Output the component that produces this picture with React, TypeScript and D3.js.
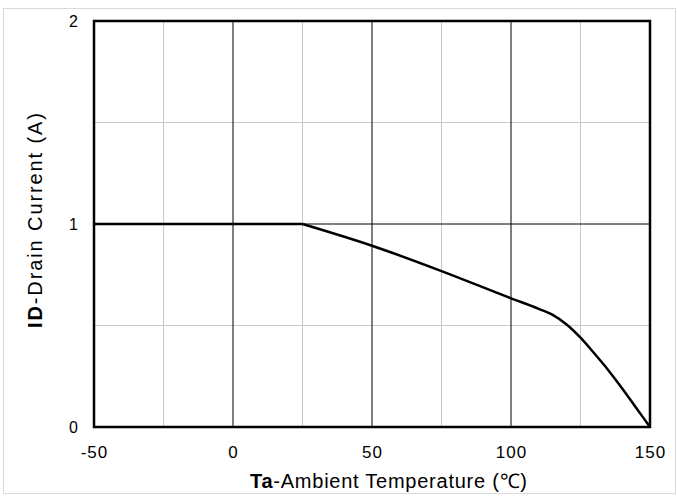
import * as d3 from 'd3'

// derating curve
const flatTemps = [-50, 25]
const flatCurrent = [1, 1]
const temps = [25, 50, 75, 100, 110, 115, 120, 125, 130, 135, 140, 145, 150]
const current = [1, 0.893, 0.768, 0.634, 0.582, 0.552, 0.505, 0.44, 0.362, 0.28, 0.19, 0.095, 0]
const xTicks = [-50, 0, 50, 100, 150]
const xMinor = [-25, 25, 75, 125]
const yTicks = [0, 1, 2]
const yMinor = [0.5, 1.5]

export default function App() {
    const width = 677
    const height = 496
    const left = 94
    const right = 650
    const top = 21
    const bottom = 427

    const x = d3.scaleLinear().domain([-50, 150]).range([left, right])
    const y = d3.scaleLinear().domain([0, 2]).range([bottom, top])

    const makeLine = (xs: number[]) => d3.line<number>()
        .x((_, i) => x(xs[i]))
        .y(d => y(d))
        .curve(d3.curveMonotoneX)

    const font = 'Arial, "Liberation Sans", sans-serif'

    return (
        <svg width={width} height={height} style={{position: 'absolute', left: 0, top: 0}} fontFamily={font}>
            <rect x={0} y={0} width={width} height={height} fill="#fff" />
            <rect x={3.5} y={8.5} width={672} height={485} fill="none" stroke="#d9d9d9" strokeWidth={1} />
            {xMinor.map(t => (
                <line key={'xm' + t} x1={x(t)} x2={x(t)} y1={top} y2={bottom} stroke="#c8c8c8" strokeWidth={1} />
            ))}
            {yMinor.map(t => (
                <line key={'ym' + t} x1={left} x2={right} y1={y(t)} y2={y(t)} stroke="#c8c8c8" strokeWidth={1} />
            ))}
            {xTicks.slice(1, -1).map(t => (
                <line key={'xg' + t} x1={x(t)} x2={x(t)} y1={top} y2={bottom} stroke="#000" strokeWidth={1} />
            ))}
            {yTicks.slice(1, -1).map(t => (
                <line key={'yg' + t} x1={left} x2={right} y1={y(t)} y2={y(t)} stroke="#000" strokeWidth={1} />
            ))}
            <path d={makeLine(flatTemps)(flatCurrent) ?? ''} fill="none" stroke="#000" strokeWidth={2.5} />
            <path d={makeLine(temps)(current) ?? ''} fill="none" stroke="#000" strokeWidth={2.5} strokeLinejoin="round" />
            <rect x={left} y={top} width={right - left} height={bottom - top} fill="none" stroke="#000" strokeWidth={2.5} />
            {xTicks.map(t => (
                <text key={'xt' + t} x={x(t) + 0.5} y={bottom + 31} textAnchor="middle" fontSize={17} letterSpacing={1}>{t}</text>
            ))}
            {yTicks.map(t => (
                <text key={'yt' + t} x={left - 16} y={y(t) + 6} textAnchor="end" fontSize={16}>{t}</text>
            ))}
            <text x={250} y={488} fontSize={20} textLength={277} lengthAdjust="spacing">
                <tspan fontWeight="bold">Ta</tspan>-Ambient Temperature  (℃)
            </text>
            <text transform={`translate(42, 328) rotate(-90)`} fontSize={20} textLength={215} lengthAdjust="spacing">
                <tspan fontWeight="bold">ID</tspan>-Drain Current (A)
            </text>
        </svg>
    )
}
